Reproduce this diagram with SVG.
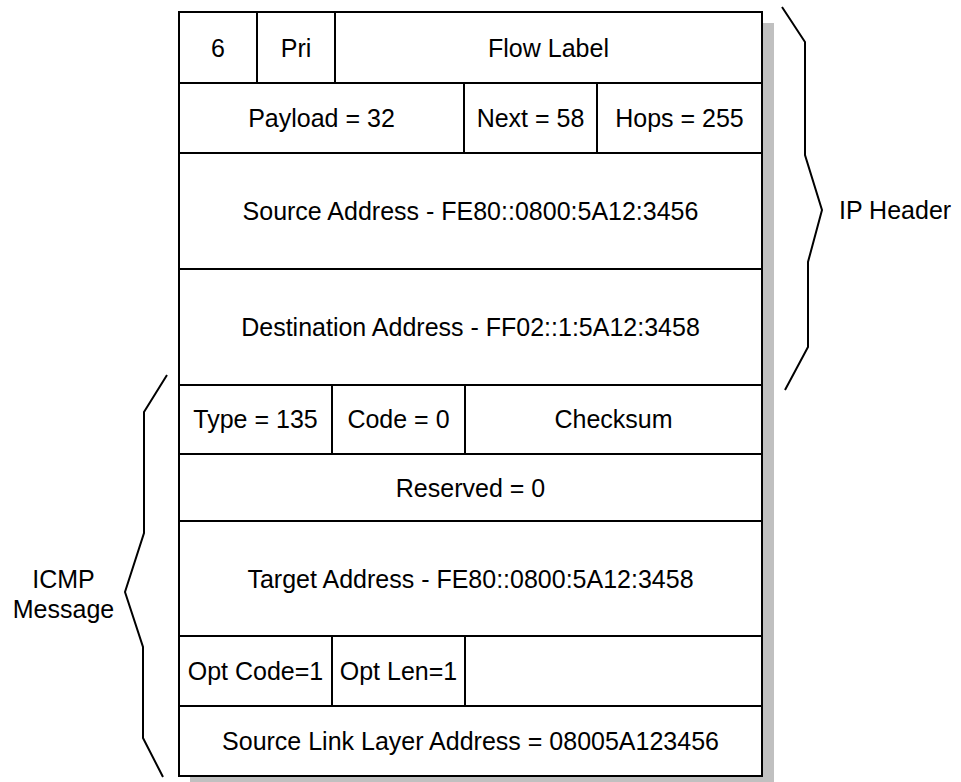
<svg xmlns="http://www.w3.org/2000/svg" width="961" height="782" viewBox="0 0 961 782">
<style>
.cell{fill:#fff;stroke:#000;stroke-width:2}
.t{font-family:"Liberation Sans",Arial,sans-serif;font-size:25px;fill:#000;text-anchor:middle}
.lbl{font-family:"Liberation Sans",Arial,sans-serif;font-size:25px;fill:#000}
.brace{fill:none;stroke:#000;stroke-width:2;stroke-linejoin:miter}
</style>
<rect x="0" y="0" width="961" height="782" fill="#fff"/>
<rect x="190" y="23" width="584" height="770" fill="#c0c0c0"/>
<g id="f-version"><rect class="cell" x="179" y="12" width="78" height="71"/><text class="t" x="218" y="56.5">6</text></g>
<g id="f-pri"><rect class="cell" x="257" y="12" width="78" height="71"/><text class="t" x="296" y="56.5">Pri</text></g>
<g id="f-flow"><rect class="cell" x="335" y="12" width="427" height="71"/><text class="t" x="548.5" y="56.5">Flow Label</text></g>
<g id="f-payload"><rect class="cell" x="179" y="83" width="285" height="70"/><text class="t" x="321.5" y="127">Payload = 32</text></g>
<g id="f-next"><rect class="cell" x="464" y="83" width="133" height="70"/><text class="t" x="530.5" y="127">Next = 58</text></g>
<g id="f-hops"><rect class="cell" x="597" y="83" width="165" height="70"/><text class="t" x="679.5" y="127">Hops = 255</text></g>
<g id="f-src"><rect class="cell" x="179" y="153" width="583" height="116"/><text class="t" x="470.5" y="220">Source Address - FE80::0800:5A12:3456</text></g>
<g id="f-dst"><rect class="cell" x="179" y="269" width="583" height="116"/><text class="t" x="470.5" y="336">Destination Address - FF02::1:5A12:3458</text></g>
<g id="f-type"><rect class="cell" x="179" y="385" width="153" height="69"/><text class="t" x="255.5" y="428">Type = 135</text></g>
<g id="f-code"><rect class="cell" x="332" y="385" width="133" height="69"/><text class="t" x="398.5" y="428">Code = 0</text></g>
<g id="f-checksum"><rect class="cell" x="465" y="385" width="297" height="69"/><text class="t" x="613.5" y="428">Checksum</text></g>
<g id="f-reserved"><rect class="cell" x="179" y="454" width="583" height="67"/><text class="t" x="470.5" y="496.5">Reserved = 0</text></g>
<g id="f-target"><rect class="cell" x="179" y="521" width="583" height="115"/><text class="t" x="470.5" y="587.5">Target Address - FE80::0800:5A12:3458</text></g>
<g id="f-optcode"><rect class="cell" x="179" y="636" width="153" height="70"/><text class="t" x="255.5" y="680">Opt Code=1</text></g>
<g id="f-optlen"><rect class="cell" x="332" y="636" width="133" height="70"/><text class="t" x="398.5" y="680">Opt Len=1</text></g>
<g id="f-empty"><rect class="cell" x="465" y="636" width="297" height="70"/></g>
<g id="f-sll"><rect class="cell" x="179" y="706" width="583" height="70"/><text class="t" x="470.5" y="750">Source Link Layer Address = 08005A123456</text></g>
<g id="connectors">
<polyline class="brace" points="782,7 805,42 805,155 822,210 808,262 808,347 785,390"/>
<polyline class="brace" points="167,375 144,412 144,533 125,592 143,647 143,738 163,777"/>
</g>
<g id="label-ip"><text class="lbl" x="839" y="219">IP Header</text></g>
<g id="label-icmp"><text class="t" x="63.5" y="588">ICMP</text><text class="t" x="63.5" y="618">Message</text></g>
</svg>
